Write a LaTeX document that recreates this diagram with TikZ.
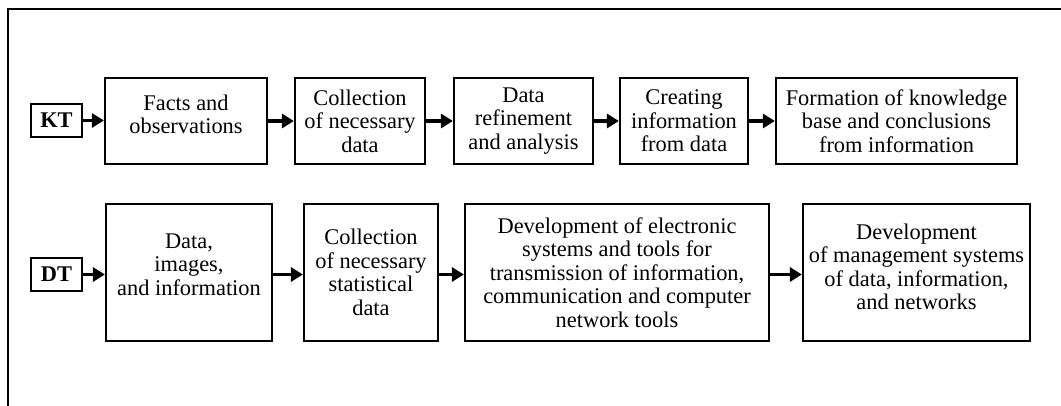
\documentclass[tikz,border=0pt]{standalone}
\usepackage{fontspec}
\setmainfont{Liberation Serif}
\usetikzlibrary{arrows.meta}

\tikzset{
  stage/.style={draw, line width=2.2pt, align=center, inner sep=2pt,
    font=\fontsize{22.4}{23.5}\selectfont},
  tag/.style={draw, line width=1.5pt, minimum width=51pt, minimum height=33pt,
    inner sep=0pt, font=\fontsize{22.4}{23.5}\selectfont\bfseries},
  flow/.style={line width=3.6pt, -{Triangle[length=12pt,width=14pt]}},
  frame/.style={line width=1.5pt}
}

\begin{document}
\begin{tikzpicture}[x=1pt, y=-1pt]
  \useasboundingbox (0,0) rectangle (1061,406);

  % open frame: top and left edges only
  \draw[frame] (1061,9) -- (8,9) -- (8,406);

  % upper chain
  \node[tag] (kt) at (56.5,120.5) {KT};
  \node[stage, minimum width=162pt, minimum height=86pt, text depth=14pt] (facts) at (186,121) {Facts and\\observations};
  \node[stage, minimum width=130pt, minimum height=86pt] (coll) at (360,121) {Collection\\of necessary\\data};
  \node[stage, minimum width=139pt, minimum height=86pt] (refine) at (523.5,121) {Data\\refinement\\and analysis};
  \node[stage, minimum width=128pt, minimum height=86pt] (create) at (684,121) {Creating\\information\\from data};
  \node[stage, minimum width=241pt, minimum height=86pt] (form) at (896.5,121) {Formation of knowledge\\base and conclusions\\from information};

  % lower chain
  \node[tag] (dt) at (56.5,274.5) {DT};
  \node[stage, minimum width=166pt, minimum height=137pt, text depth=16pt] (data) at (189,272.5) {Data,\\images,\\and information};
  \node[stage, minimum width=134pt, minimum height=137pt] (stat) at (371,272.5) {Collection\\of necessary\\statistical\\data};
  \node[stage, minimum width=304pt, minimum height=137pt] (dev) at (617,272.5) {Development of electronic\\systems and tools for\\transmission of information,\\communication and computer\\network tools};
  \node[stage, minimum width=227pt, minimum height=137pt, text depth=12pt] (mgmt) at (916.5,272.5) {Development\\of management systems\\of data, information,\\and networks};

  % connectors
  \draw[flow] (kt.east) -- (kt.east -| facts.west);
  \draw[flow] (facts.east) -- (coll.west);
  \draw[flow] (coll.east) -- (refine.west);
  \draw[flow] (refine.east) -- (create.west);
  \draw[flow] (create.east) -- (form.west);

  \draw[flow] (dt.east) -- (dt.east -| data.west);
  \draw[flow] ([yshift=-2pt]data.east) -- ([yshift=-2pt]stat.west);
  \draw[flow] ([yshift=-2pt]stat.east) -- ([yshift=-2pt]dev.west);
  \draw[flow] ([yshift=-2pt]dev.east) -- ([yshift=-2pt]mgmt.west);
\end{tikzpicture}
\end{document}
